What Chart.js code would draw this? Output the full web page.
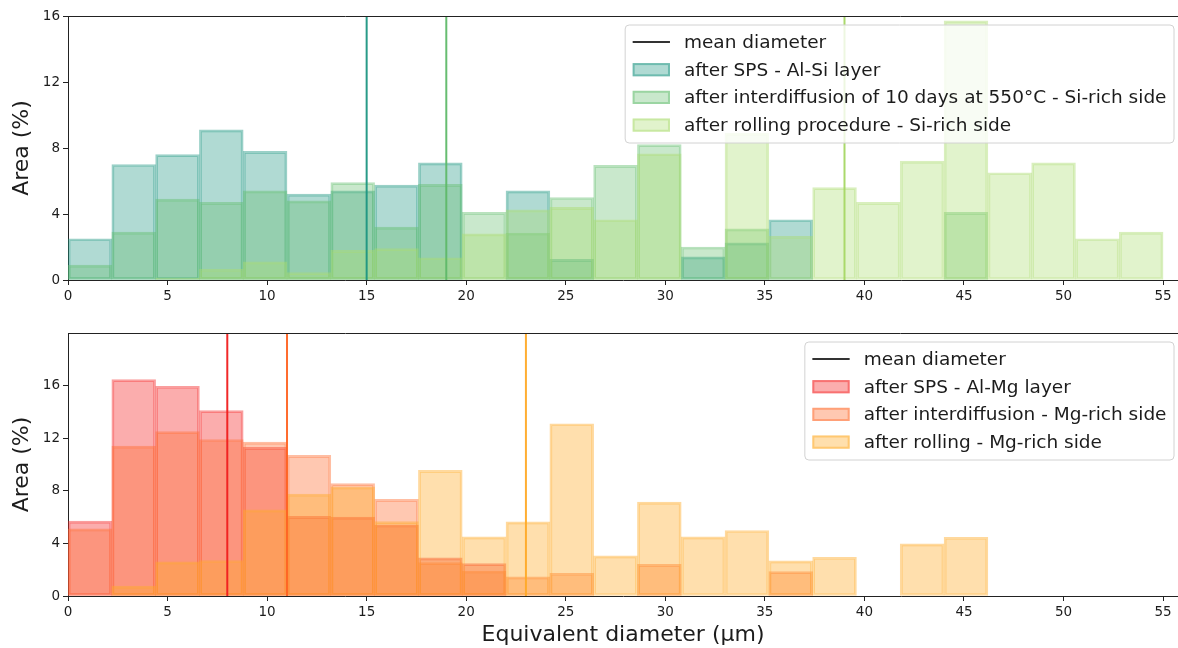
<!DOCTYPE html>
<html>
<head>
<meta charset="utf-8">
<script src="https://cdn.jsdelivr.net/npm/chart.js@4.4.0/dist/chart.umd.min.js"></script>
<style>
  html, body { margin: 0; padding: 0; background: #fff; }
  #figure { position: relative; width: 1178px; height: 648px; overflow: hidden; }
  #figure canvas { position: absolute; left: 0; }
  #siChart { top: 0; }
  #mgChart { top: 320px; }
</style>
</head>
<body>
<div id="figure">
  <canvas id="siChart" width="1178" height="320"></canvas>
  <canvas id="mgChart" width="1178" height="328"></canvas>
</div>
<script>
"use strict";

// centres of the 2.2 µm wide diameter classes
const binCenters = [1.1, 3.3, 5.5, 7.7, 9.9, 12.1, 14.3, 16.5, 18.7, 20.9, 23.1, 25.3, 27.5,
  29.7, 31.9, 34.1, 36.3, 38.5, 40.7, 42.9, 45.1, 47.3, 49.5, 51.7, 53.9];
const xTicks = [0, 5, 10, 15, 20, 25, 30, 35, 40, 45, 50, 55];
const yTicks = [0, 4, 8, 12, 16];

// Al-Si side, area fraction per class (%)
const siLabels = [
  "after SPS - Al-Si layer",
  "after interdiffusion of 10 days at 550°C - Si-rich side",
  "after rolling procedure - Si-rich side",
];
const siSps = [2.5, 7.0, 7.6, 9.1, 7.8, 5.2, 5.4, 5.75, 7.1, 0, 5.4, 1.25, 0,
  0, 1.4, 2.25, 3.65, 0, 0, 0, 0, 0, 0, 0, 0];
const siInterdiffusion = [0.9, 2.9, 4.9, 4.7, 5.4, 4.8, 5.9, 3.2, 5.8, 4.1, 2.85, 5.0, 6.95,
  8.2, 2.0, 3.1, 0, 0, 0, 0, 4.1, 0, 0, 0, 0];
const siRolling = [0, 0, 0.1, 0.65, 1.1, 0.45, 1.8, 1.9, 1.35, 2.8, 4.25, 4.4, 3.65,
  7.65, 0, 8.9, 2.65, 5.6, 4.7, 7.2, 15.7, 6.5, 7.1, 2.5, 2.9];
const siMeans = [15, 19, 39];

// Al-Mg side, area fraction per class (%)
const mgLabels = [
  "after SPS - Al-Mg layer",
  "after interdiffusion - Mg-rich side",
  "after rolling - Mg-rich side",
];
const mgSps = [5.7, 16.45, 15.95, 14.1, 11.3, 6.05, 6.0, 5.4, 2.9, 2.46, 0, 0, 0,
  0, 0, 0, 0, 0, 0, 0, 0, 0, 0, 0, 0];
const mgInterdiffusion = [5.1, 11.4, 12.5, 11.9, 11.7, 10.7, 8.55, 7.35, 2.54, 1.9, 1.45, 1.73, 0,
  2.41, 0, 0, 1.85, 0, 0, 0, 0, 0, 0, 0, 0];
const mgRolling = [0, 0.75, 2.6, 2.7, 6.55, 7.75, 8.3, 5.65, 9.55, 4.5, 5.64, 13.1, 3.05,
  7.14, 4.5, 4.98, 2.67, 2.95, 0, 3.96, 4.47, 0, 0, 0, 0];
const mgMeans = [8, 11, 23];

const FONT = '"DejaVu Sans", "Liberation Sans", sans-serif';
const INK = "#1c1c1c";
Chart.defaults.font.family = FONT;
Chart.defaults.color = INK;

function rgba(c, a) {
  return `rgba(${c[0]},${c[1]},${c[2]},${a})`;
}

function histDataset(label, values, color, fillAlpha, order) {
  return {
    type: "bar",
    label: label,
    data: values.map((v, i) => ({ x: binCenters[i], y: v })),
    backgroundColor: rgba(color, fillAlpha),
    borderColor: rgba(color, 0.45),
    borderWidth: 2,
    borderSkipped: false,
    grouped: false,
    barPercentage: 1,
    categoryPercentage: 1,
    order: order,
  };
}

function meanDataset(x, yTop, color, order) {
  return {
    type: "line",
    label: "mean diameter",
    data: [{ x: x, y: 0 }, { x: x, y: yTop }],
    borderColor: rgba(color, 0.95),
    borderWidth: 2,
    pointRadius: 0,
    fill: false,
    order: order,
  };
}

// top spine, matplotlib style
const topSpine = {
  id: "topSpine",
  afterDraw(chart) {
    const { ctx, chartArea } = chart;
    ctx.save();
    ctx.strokeStyle = "#222";
    ctx.lineWidth = 1;
    ctx.beginPath();
    ctx.moveTo(chartArea.left, chartArea.top + 0.5);
    ctx.lineTo(chartArea.right, chartArea.top + 0.5);
    ctx.stroke();
    ctx.restore();
  },
};

// framed legend in the upper right corner of the plot area
const boxLegend = {
  id: "boxLegend",
  afterDraw(chart) {
    const { ctx, chartArea } = chart;
    const fs = 18.5;
    const pad = 7.5, handleW = 37.3, gap = 14, rowH = 27.7;
    const bars = chart.data.datasets.filter((d) => d.type === "bar");
    const labels = ["mean diameter"].concat(bars.map((d) => d.label));

    ctx.save();
    ctx.font = `${fs}px ${FONT}`;
    const textW = Math.max(...labels.map((t) => ctx.measureText(t).width));
    const w = pad + handleW + gap + textW + pad;
    const h = 118;
    const x = chartArea.right - 4 - w;
    const y = chartArea.top + 9;

    // frame
    const r = 4;
    ctx.beginPath();
    ctx.moveTo(x + r, y);
    ctx.arcTo(x + w, y, x + w, y + h, r);
    ctx.arcTo(x + w, y + h, x, y + h, r);
    ctx.arcTo(x, y + h, x, y, r);
    ctx.arcTo(x, y, x + w, y, r);
    ctx.closePath();
    ctx.fillStyle = "rgba(255,255,255,0.8)";
    ctx.fill();
    ctx.strokeStyle = "#d2d2d2";
    ctx.lineWidth = 1;
    ctx.stroke();

    const hx = x + pad;
    const tx = hx + handleW + gap;
    ctx.textBaseline = "middle";
    ctx.textAlign = "left";

    labels.forEach((label, i) => {
      const cy = y + 17 + i * rowH;
      if (i === 0) {
        ctx.strokeStyle = "rgba(0,0,0,0.8)";
        ctx.lineWidth = 2;
        ctx.beginPath();
        ctx.moveTo(hx, cy);
        ctx.lineTo(hx + handleW, cy);
        ctx.stroke();
      } else {
        const d = bars[i - 1];
        ctx.fillStyle = d.backgroundColor;
        ctx.fillRect(hx, cy - 6.6, handleW, 13.2);
        ctx.strokeStyle = d.borderColor;
        ctx.lineWidth = 2;
        ctx.strokeRect(hx + 1, cy - 5.6, handleW - 2, 11.2);
      }
      ctx.fillStyle = INK;
      ctx.fillText(label, tx, cy + 1);
    });
    ctx.restore();
  },
};

function makeChart(canvasId, cfg) {
  const datasets = [
    histDataset(cfg.labels[0], cfg.series[0], cfg.colors[0], cfg.alpha, 6),
    histDataset(cfg.labels[1], cfg.series[1], cfg.colors[1], cfg.alpha, 5),
    histDataset(cfg.labels[2], cfg.series[2], cfg.colors[2], cfg.alpha, 4),
    meanDataset(cfg.means[0], cfg.yMax, cfg.lineColors[0], 3),
    meanDataset(cfg.means[1], cfg.yMax, cfg.lineColors[1], 2),
    meanDataset(cfg.means[2], cfg.yMax, cfg.lineColors[2], 1),
  ];

  return new Chart(document.getElementById(canvasId), {
    type: "bar",
    data: { datasets: datasets },
    plugins: [topSpine, boxLegend],
    options: {
      responsive: false,
      animation: false,
      layout: { padding: { top: cfg.padTop, right: 0, bottom: 0, left: 0 } },
      plugins: {
        legend: { display: false },
        tooltip: { enabled: false },
      },
      scales: {
        x: {
          type: "linear",
          min: 0,
          max: 55.75,
          offset: false,
          afterFit: (s) => { s.height = cfg.xAxisHeight; },
          afterBuildTicks: (s) => { s.ticks = xTicks.map((v) => ({ value: v })); },
          ticks: { font: { size: 13.5 }, color: INK, padding: 3, maxRotation: 0, autoSkip: false, includeBounds: false },
          grid: { display: true, drawOnChartArea: false, drawTicks: true, tickLength: 5, color: "#222", offset: false },
          border: { display: true, color: "#222", width: 1 },
          title: {
            display: cfg.showXTitle,
            text: "Equivalent diameter (µm)",
            font: { size: 22 },
            color: INK,
            padding: { top: 4, bottom: 0 },
          },
        },
        y: {
          type: "linear",
          min: 0,
          max: cfg.yMax,
          afterFit: (s) => { s.width = 68; },
          afterBuildTicks: (s) => { s.ticks = yTicks.map((v) => ({ value: v })); },
          ticks: { font: { size: 13.5 }, color: INK, padding: 3, includeBounds: false },
          grid: { display: true, drawOnChartArea: false, drawTicks: true, tickLength: 5, color: "#222" },
          border: { display: true, color: "#222", width: 1 },
          title: {
            display: true,
            text: "Area (%)",
            font: { size: 22 },
            color: INK,
            padding: { top: 9, bottom: 0 },
          },
        },
      },
    },
  });
}

makeChart("siChart", {
  labels: siLabels,
  series: [siSps, siInterdiffusion, siRolling],
  colors: [[30, 150, 130], [100, 190, 110], [170, 220, 110]],
  lineColors: [[30, 150, 130], [95, 185, 105], [165, 215, 100]],
  alpha: 0.35,
  means: siMeans,
  yMax: 16,
  padTop: 16,
  xAxisHeight: 40,
  showXTitle: false,
});

makeChart("mgChart", {
  labels: mgLabels,
  series: [mgSps, mgInterdiffusion, mgRolling],
  colors: [[245, 40, 40], [255, 110, 50], [255, 170, 40]],
  lineColors: [[240, 30, 30], [255, 100, 35], [255, 170, 40]],
  alpha: 0.38,
  means: mgMeans,
  yMax: 20,
  padTop: 13,
  xAxisHeight: 52,
  showXTitle: true,
});
</script>
</body>
</html>
